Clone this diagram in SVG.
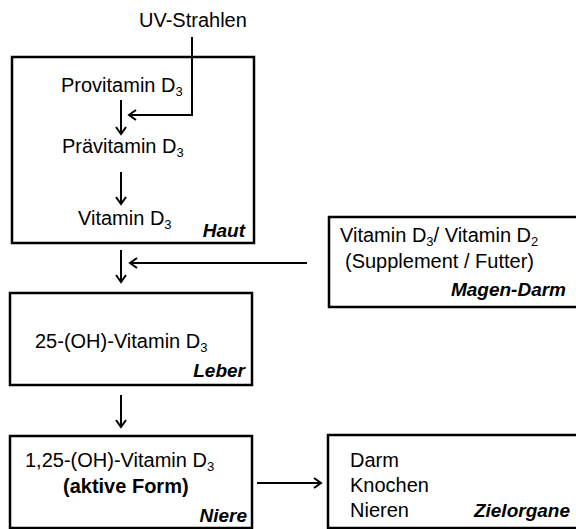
<svg xmlns="http://www.w3.org/2000/svg" width="576" height="529" viewBox="0 0 576 529">
<defs>
<marker id="ah" viewBox="-8 -6 10 12" markerWidth="10" markerHeight="12" refX="0" refY="0" orient="auto" markerUnits="userSpaceOnUse">
<path d="M-7,-5 L0,0 L-7,5" fill="none" stroke="#000" stroke-width="2"/>
</marker>
<style>
.box{fill:#fff;stroke:#000;stroke-width:2.5}
.t{font-family:"Liberation Sans",Arial,sans-serif;font-size:20px;fill:#000}
.lbl{font-family:"Liberation Sans",Arial,sans-serif;font-size:19px;font-weight:bold;font-style:italic;fill:#000;text-anchor:end}
.b{font-weight:bold}
.sub{font-size:13px}
.c{fill:none;stroke:#000;stroke-width:2;marker-end:url(#ah)}
</style>
</defs>
<g id="uv"><text class="t" x="139" y="27">UV-Strahlen</text></g>
<g id="haut">
<rect class="box" x="12" y="57" width="242" height="186"/>
<text class="t" x="61" y="92">Provitamin D<tspan class="sub" dy="4">3</tspan></text>
<text class="t" x="62" y="153">Prävitamin D<tspan class="sub" dy="4">3</tspan></text>
<text class="t" x="78" y="225">Vitamin D<tspan class="sub" dy="4">3</tspan></text>
<text class="lbl" x="245" y="237">Haut</text>
</g>
<g id="magen">
<rect class="box" x="329" y="217" width="250" height="90"/>
<text class="t" x="340" y="242">Vitamin D<tspan class="sub" dy="4">3</tspan><tspan dy="-4">/ Vitamin D</tspan><tspan class="sub" dy="4">2</tspan></text>
<text class="t" x="345" y="268">(Supplement / Futter)</text>
<text class="lbl" x="566" y="296">Magen-Darm</text>
</g>
<g id="leber">
<rect class="box" x="10" y="293" width="242" height="92"/>
<text class="t" x="35" y="348">25-(OH)-Vitamin D<tspan class="sub" dy="4">3</tspan></text>
<text class="lbl" x="245" y="377">Leber</text>
</g>
<g id="niere">
<rect class="box" x="10" y="436" width="242" height="92"/>
<text class="t" x="25" y="467">1,25-(OH)-Vitamin D<tspan class="sub" dy="4">3</tspan></text>
<text class="t b" x="63" y="493">(aktive Form)</text>
<text class="lbl" x="247" y="522">Niere</text>
</g>
<g id="ziel">
<rect class="box" x="328" y="435" width="251" height="93"/>
<text class="t" x="350" y="467">Darm</text>
<text class="t" x="350" y="492">Knochen</text>
<text class="t" x="350" y="517">Nieren</text>
<text class="lbl" x="570" y="517">Zielorgane</text>
</g>
<g id="connectors">
<path class="c" d="M192,37 V115 H129"/>
<path class="c" d="M121,100 V134"/>
<path class="c" d="M121,172 V204"/>
<path class="c" d="M121,250 V282"/>
<path class="c" d="M307,263 H130"/>
<path class="c" d="M121,395 V427"/>
<path class="c" d="M257,483 H321"/>
</g>
</svg>
